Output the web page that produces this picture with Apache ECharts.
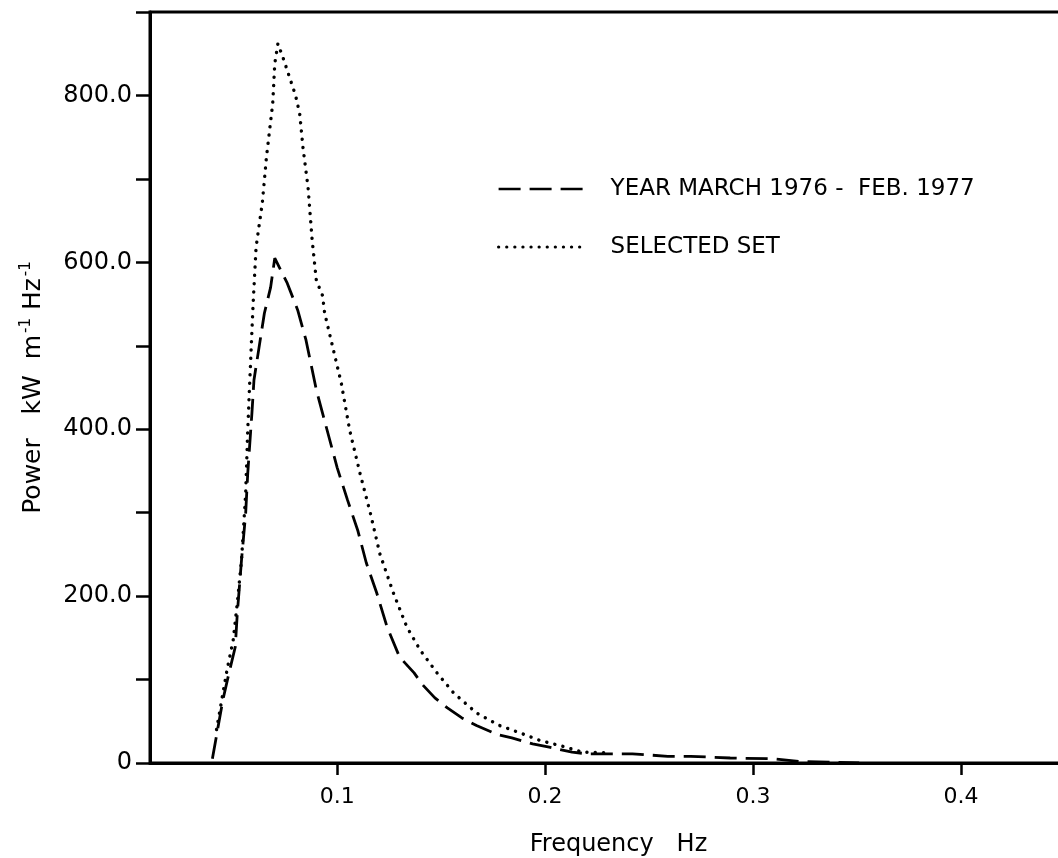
<!DOCTYPE html>
<html>
<head>
<meta charset="utf-8">
<script src="https://cdn.jsdelivr.net/npm/echarts@6/dist/echarts.min.js"></script>
<style>
html,body{margin:0;padding:0;background:#fff;}
#chart{width:1058px;height:858px;}
</style>
</head>
<body>
<div id="chart"></div>
<script>
// ---- data ----
const yearFreq  = [0.040, 0.045, 0.048, 0.051, 0.052, 0.054, 0.056, 0.057, 0.059, 0.060, 0.065, 0.068, 0.070, 0.076, 0.081, 0.085, 0.090, 0.093, 0.100, 0.105, 0.110, 0.114, 0.119, 0.124, 0.130, 0.137, 0.141, 0.147, 0.153, 0.160, 0.167, 0.177, 0.184, 0.194, 0.202, 0.213, 0.220, 0.233, 0.242, 0.259, 0.270, 0.289, 0.310, 0.322, 0.351];
const yearPower = [5, 75, 108, 139, 180, 243, 299, 347, 419, 459, 539, 570, 605, 575, 543, 507, 447, 419, 354, 315, 278, 240, 204, 163, 127, 108, 94, 78, 66, 54, 45, 34, 30, 23, 19, 13, 11, 11, 11, 8, 8, 6, 5, 2, 0];

const selFreq  = [0.042, 0.047, 0.050, 0.052, 0.054, 0.056, 0.057, 0.058, 0.0595, 0.061, 0.064, 0.066, 0.069, 0.070, 0.0715, 0.074, 0.080, 0.082, 0.0836, 0.086, 0.088, 0.090, 0.093, 0.094, 0.102, 0.106, 0.111, 0.116, 0.1205, 0.127, 0.1335, 0.140, 0.148, 0.156, 0.167, 0.178, 0.188, 0.1975, 0.210, 0.218, 0.231];
const selPower = [40, 111, 147, 192, 243, 323, 399, 459, 546, 618, 671, 726, 790, 838, 862, 845, 800, 778, 737, 690, 626, 578, 560, 539, 455, 399, 347, 299, 251, 204, 163, 135, 108, 84, 60, 45, 36, 27, 19, 13, 12];

const xTicks = [0.1, 0.2, 0.3, 0.4];
const seriesNames = ['YEAR MARCH 1976 -  FEB. 1977', 'SELECTED SET'];

const FONT = 'DejaVu Sans';
const pairs = (xs, ys) => xs.map((x, i) => [x, ys[i]]);

const chart = echarts.init(document.getElementById('chart'), null, {renderer: 'canvas'});
chart.setOption({
  animation: false,
  backgroundColor: '#ffffff',
  textStyle: {fontFamily: FONT, color: '#000'},
  grid: {
    left: 150, top: 12, width: 915, height: 751,
    outerBoundsMode: 'none',
    containLabel: false,
    show: true, borderColor: '#000', borderWidth: 3, backgroundColor: 'transparent'
  },
  legend: {
    orient: 'vertical',
    left: 492, top: 170,
    itemWidth: 85, itemHeight: 14,
    itemGap: 30,
    itemStyle: {color: 'transparent', borderWidth: 0, opacity: 0},
    textStyle: {fontFamily: FONT, fontSize: 23, color: '#000', lineHeight: 28, padding: [0, 0, 0, 22]},
    data: [
      {name: seriesNames[0], lineStyle: {color: '#000', width: 2.4, type: [22, 9]}},
      {name: seriesNames[1], lineStyle: {color: '#000', width: 3.2, type: [0.1, 8], cap: 'round'}}
    ]
  },
  xAxis: {
    type: 'value',
    min: 0.01, max: 0.45,
    splitLine: {show: false},
    axisLine: {show: true, lineStyle: {color: '#000', width: 3}},
    axisTick: {show: true, inside: false, length: 12, customValues: xTicks, lineStyle: {color: '#000', width: 2.5}},
    axisLabel: {show: true, customValues: xTicks, margin: 23, fontFamily: FONT, fontSize: 22, color: '#000',
      formatter: v => v.toFixed(1)},
    name: 'Frequency   Hz',
    nameLocation: 'middle',
    nameGap: 70,
    nameTextStyle: {fontFamily: FONT, fontSize: 24, color: '#000', padding: [0, 0, 0, 22]}
  },
  yAxis: {
    type: 'value',
    min: 0, max: 900, interval: 100,
    splitLine: {show: false},
    axisLine: {show: true, lineStyle: {color: '#000', width: 3}},
    axisTick: {show: true, inside: false, length: 14, lineStyle: {color: '#000', width: 2.5}},
    axisLabel: {show: true, margin: 18, fontFamily: FONT, fontSize: 24, color: '#000',
      formatter: v => v === 0 ? '0' : (v % 200 === 0 && v < 900 ? v.toFixed(1) : '')},
    name: '{a|Power   kW  m}{s|-1}{a| Hz}{s|-1}',
    nameLocation: 'middle',
    nameGap: 102,
    nameRotate: 90,
    nameTextStyle: {
      fontFamily: FONT, color: '#000',
      rich: {
        a: {fontFamily: FONT, fontSize: 25, color: '#000', lineHeight: 30},
        s: {fontFamily: FONT, fontSize: 15, color: '#000', lineHeight: 30, padding: [0, 0, 14, 2]}
      }
    }
  },
  series: [
    {
      name: seriesNames[0],
      type: 'line',
      data: pairs(yearFreq, yearPower),
      showSymbol: false, symbol: 'none',
      itemStyle: {color: '#000'},
      lineStyle: {color: '#000', width: 2.8, type: [22, 9]}
    },
    {
      name: seriesNames[1],
      type: 'line',
      data: pairs(selFreq, selPower),
      showSymbol: false, symbol: 'none',
      itemStyle: {color: '#000'},
      lineStyle: {color: '#000', width: 3.4, type: [0.1, 8.2], cap: 'round'}
    }
  ]
});
</script>
</body>
</html>
